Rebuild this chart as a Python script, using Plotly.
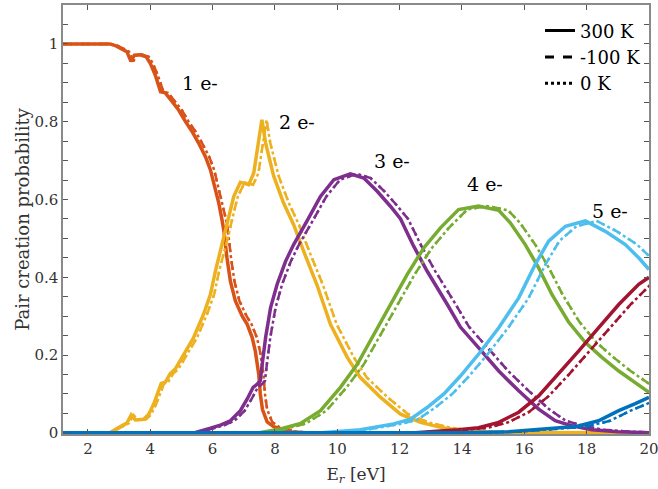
import plotly.graph_objects as go

# ---- data ----
# 1 e-
E1 = [1.2, 2.7, 2.9, 3.15, 3.25, 3.38, 3.49, 3.68, 3.87, 4.0, 4.16, 4.33, 4.48, 4.64, 4.8, 4.91, 5.13, 5.34, 5.55, 5.77,
      5.93, 6.06, 6.2, 6.3, 6.36, 6.46, 6.57, 6.73, 6.95, 7.11, 7.27, 7.37, 7.48, 7.53, 7.6, 7.75, 7.96, 8.18, 8.5, 9.0, 20.0]
E1c = [1.2, 2.75, 2.96, 3.21, 3.32, 3.45, 3.56, 3.75, 3.95, 4.08, 4.24, 4.42, 4.57, 4.73, 4.9, 5.01, 5.23, 5.45, 5.66, 5.89,
       6.05, 6.18, 6.32, 6.43, 6.49, 6.59, 6.7, 6.86, 7.09, 7.25, 7.42, 7.52, 7.63, 7.68, 7.75, 7.91, 8.12, 8.34, 8.67, 9.18, 20.4]
P1 = [1.0, 1.0, 0.995, 0.986, 0.98, 0.955, 0.971, 0.972, 0.967, 0.95, 0.92, 0.877, 0.874, 0.858, 0.84, 0.83, 0.80, 0.775, 0.745, 0.71,
      0.676, 0.634, 0.59, 0.548, 0.52, 0.45, 0.39, 0.339, 0.30, 0.279, 0.245, 0.21, 0.15, 0.10, 0.06, 0.028, 0.016, 0.01, 0.003, 0.0, 0.0]
# 2 e-
E2 = [1.2, 2.7, 3.04, 3.25, 3.39, 3.52, 3.79, 3.95, 4.11, 4.24, 4.35, 4.48, 4.64, 4.8, 5.07, 5.39, 5.71, 5.93, 6.09, 6.25,
      6.41, 6.5, 6.68, 6.89, 7.16, 7.32, 7.45, 7.58, 7.7, 7.96, 8.28, 8.6, 8.92, 9.35, 9.78, 10.32, 10.74, 11.39, 12.03, 12.67,
      13.32, 13.96, 15.0, 20.0]
E2c = [1.2, 2.75, 3.1, 3.32, 3.46, 3.59, 3.87, 4.03, 4.19, 4.32, 4.44, 4.57, 4.73, 4.9, 5.17, 5.5, 5.82, 6.05, 6.21, 6.38,
       6.54, 6.63, 6.81, 7.03, 7.3, 7.47, 7.6, 7.73, 7.85, 8.12, 8.45, 8.77, 9.1, 9.54, 9.98, 10.53, 10.95, 11.62, 12.27, 12.92,
       13.59, 14.24, 15.3, 20.4]
P2 = [0, 0, 0.016, 0.025, 0.046, 0.033, 0.035, 0.048, 0.074, 0.10, 0.127, 0.13, 0.152, 0.164, 0.202, 0.245, 0.305, 0.356, 0.416, 0.467,
      0.518, 0.55, 0.608, 0.644, 0.638, 0.668, 0.74, 0.805, 0.745, 0.66, 0.59, 0.535, 0.467, 0.38, 0.279, 0.194, 0.142, 0.091, 0.048, 0.027,
      0.014, 0.006, 0.001, 0]
# 3 e-
E3 = [1.2, 5.4, 5.93, 6.25, 6.57, 6.89, 7.11, 7.3, 7.43, 7.53, 7.59, 7.7, 7.86, 8.07, 8.34, 8.6, 9.03, 9.46, 9.89, 10.42,
      10.85, 11.28, 11.71, 12.03, 12.45, 12.88, 13.53, 13.95, 14.53, 15.18, 15.82, 16.46, 16.99, 17.53, 18.17, 19.0, 20.0]
E3c = [1.2, 5.5, 6.05, 6.38, 6.7, 7.03, 7.25, 7.45, 7.58, 7.68, 7.74, 7.85, 8.02, 8.23, 8.51, 8.77, 9.21, 9.65, 10.09, 10.63,
       11.07, 11.51, 11.94, 12.27, 12.7, 13.14, 13.8, 14.23, 14.82, 15.48, 16.14, 16.79, 17.33, 17.88, 18.53, 19.38, 20.4]
P3 = [0, 0, 0.012, 0.02, 0.031, 0.057, 0.087, 0.117, 0.125, 0.134, 0.176, 0.245, 0.322, 0.382, 0.441, 0.484, 0.545, 0.608, 0.651, 0.666,
      0.655, 0.621, 0.582, 0.55, 0.48, 0.416, 0.33, 0.272, 0.219, 0.159, 0.108, 0.061, 0.031, 0.018, 0.008, 0.003, 0]
# 4 e-
E4 = [1.2, 7.5, 8.18, 8.82, 9.46, 10.1, 10.64, 11.17, 11.71, 12.24, 12.78, 13.31, 13.89, 14.53, 15.18, 15.55, 16.03, 16.46, 16.89, 17.42,
      17.96, 18.49, 19.03, 19.56, 20.0]
E4c = [1.2, 7.65, 8.34, 9.0, 9.65, 10.3, 10.85, 11.39, 11.94, 12.48, 13.04, 13.58, 14.17, 14.82, 15.48, 15.86, 16.35, 16.79, 17.23, 17.77,
       18.32, 18.86, 19.41, 19.95, 20.4]
P4 = [0, 0, 0.01, 0.024, 0.057, 0.117, 0.176, 0.253, 0.33, 0.407, 0.476, 0.527, 0.574, 0.583, 0.572, 0.54, 0.484, 0.424, 0.355, 0.285,
      0.232, 0.194, 0.159, 0.129, 0.104]
# 5 e-
E5 = [1.2, 9.5, 10.74, 11.81, 12.35, 12.88, 13.42, 13.95, 14.53, 15.18, 15.82, 16.35, 16.78, 17.32, 17.96, 18.6, 19.24, 19.67, 20.0]
E5c = [1.2, 9.69, 10.95, 12.05, 12.6, 13.14, 13.69, 14.23, 14.82, 15.48, 16.14, 16.68, 17.12, 17.67, 18.32, 18.97, 19.62, 20.06, 20.4]
P5 = [0, 0, 0.008, 0.023, 0.035, 0.065, 0.10, 0.146, 0.202, 0.27, 0.347, 0.433, 0.493, 0.531, 0.545, 0.518, 0.484, 0.45, 0.42]
# 6 e-
E6 = [1.2, 12.5, 13.89, 14.53, 15.18, 15.82, 16.46, 17.1, 17.74, 18.38, 19.03, 19.67, 20.0]
E6c = [1.2, 12.75, 14.17, 14.82, 15.48, 16.14, 16.79, 17.44, 18.09, 18.75, 19.41, 20.06, 20.4]
P6 = [0, 0, 0.008, 0.013, 0.027, 0.053, 0.095, 0.151, 0.21, 0.27, 0.33, 0.382, 0.40]
# 7 e-
E7 = [1.2, 14.0, 15.5, 16.56, 17.64, 18.38, 19.03, 19.56, 20.0]
E7c = [1.2, 14.28, 15.81, 16.89, 17.99, 18.75, 19.41, 19.95, 20.4]
P7 = [0, 0, 0.003, 0.01, 0.016, 0.031, 0.057, 0.075, 0.091]

temps = ["300 K", "-100 K", "0 K"]
labels = ["1 e-", "2 e-", "3 e-", "4 e-", "5 e-"]
label_x = [5.6, 8.7, 11.75, 14.75, 18.75]
label_y = [0.90, 0.80, 0.70, 0.64, 0.57]
x_ticks = [2, 4, 6, 8, 10, 12, 14, 16, 18, 20]
y_ticks = [0, 0.2, 0.4, 0.6, 0.8, 1]
y_tick_text = ["0", "0.2", "0.4", "0.6", "0.8", "1"]

colors = ["#D95319", "#EDB120", "#7E2F8E", "#77AC30", "#4DBEEE", "#A2142F", "#0072BD"]
series = [(E1, E1c, P1), (E2, E2c, P2), (E3, E3c, P3), (E4, E4c, P4), (E5, E5c, P5), (E6, E6c, P6), (E7, E7c, P7)]

FONT = "DejaVu Serif"
fig = go.Figure()

for (e, ec, p), c in zip(series, colors):
    fig.add_trace(go.Scatter(x=e, y=p, mode="lines", line=dict(color=c, width=3.5), showlegend=False))
    fig.add_trace(go.Scatter(x=ec, y=p, mode="lines", line=dict(color=c, width=2.5, dash="dash"), showlegend=False))
    fig.add_trace(go.Scatter(x=ec, y=p, mode="lines", line=dict(color=c, width=2.5, dash="dot"), showlegend=False))

for name, d in zip(temps, ["solid", "dash", "dot"]):
    fig.add_trace(go.Scatter(x=[None], y=[None], mode="lines", name=name,
                             line=dict(color="black", width=3, dash=d)))

for t, x, y in zip(labels, label_x, label_y):
    fig.add_annotation(x=x, y=y, text=t, showarrow=False, font=dict(family=FONT, size=19, color="black"))

axis_common = dict(showline=True, linecolor="#8a8a8a", linewidth=1.5, mirror="ticks",
                   ticks="inside", ticklen=5, tickcolor="#555555", tickwidth=1,
                   showgrid=False, zeroline=False, automargin=False, ticklabeloverflow="allow",
                   tickfont=dict(family=FONT, size=15, color="#333333"))

fig.update_layout(
    width=658, height=489,
    margin=dict(l=63, r=9, t=5, b=55),
    plot_bgcolor="white", paper_bgcolor="white",
    xaxis=dict(range=[1.2, 20], tickvals=x_ticks,
               title=dict(text="E<sub><i>r</i></sub> [eV]", font=dict(family=FONT, size=17, color="#333333"), standoff=11),
               **axis_common),
    yaxis=dict(range=[-0.003, 1.1], tickvals=y_ticks, ticktext=y_tick_text,
               minor=dict(dtick=0.05, ticks="inside", ticklen=5, tickcolor="#555555"),
               title=dict(text="Pair creation probability", font=dict(family=FONT, size=18, color="#333333"), standoff=0),
               **axis_common),
    legend=dict(x=0.814, y=0.983, xanchor="left", yanchor="top", bgcolor="rgba(0,0,0,0)",
                font=dict(family=FONT, size=18, color="black"), itemwidth=30, tracegroupgap=0),
)

fig.write_html("out.html", config={"displayModeBar": False},
               post_script="document.body.style.margin='0px';")
